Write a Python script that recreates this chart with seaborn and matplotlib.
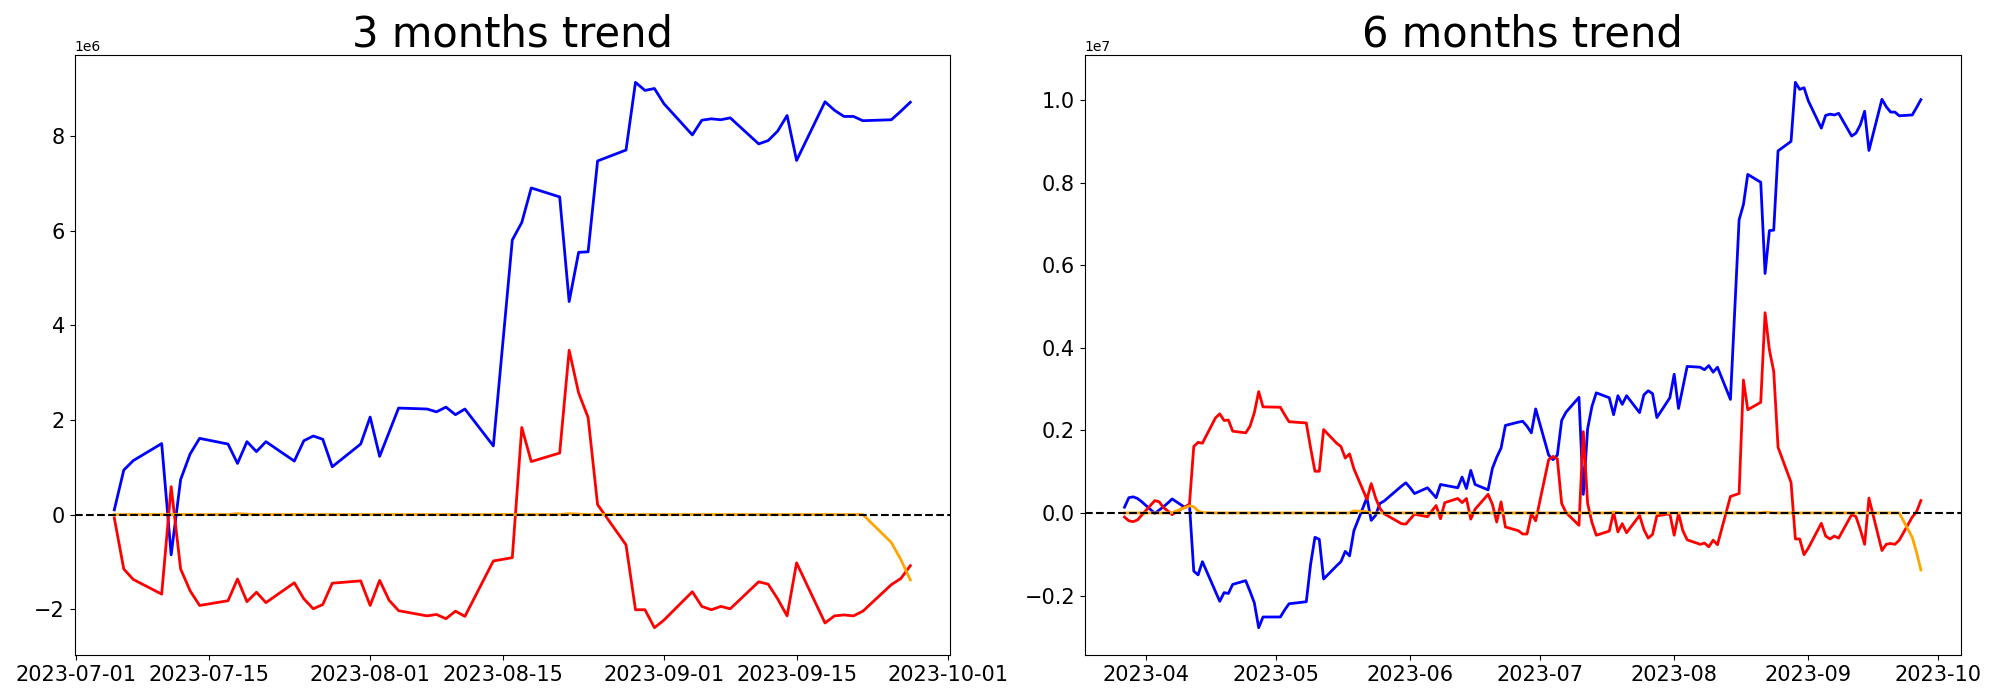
import numpy as np
import pandas as pd
import matplotlib
matplotlib.use("Agg")
import matplotlib.pyplot as plt
import seaborn as sns

# ---------------- data (values in millions) ----------------
dates_3m = [
    "07-05", "07-06", "07-07", "07-10", "07-11", "07-12", "07-13", "07-14", "07-17", "07-18",
    "07-19", "07-20", "07-21", "07-24", "07-25", "07-26", "07-27", "07-28", "07-31",
    "08-01", "08-02", "08-03", "08-04", "08-07", "08-08", "08-09", "08-10", "08-11", "08-14",
    "08-16", "08-17", "08-18", "08-21", "08-22", "08-23", "08-24", "08-25", "08-28", "08-29",
    "08-30", "08-31",
    "09-01", "09-04", "09-05", "09-06", "09-07", "09-08", "09-11", "09-12", "09-13", "09-14",
    "09-15", "09-18", "09-19", "09-20", "09-21", "09-22", "09-25", "09-26", "09-27",
]
blue_3m = [
    0.10, 0.94, 1.14, 1.50, -0.85, 0.74, 1.28, 1.61, 1.49, 1.08,
    1.54, 1.33, 1.54, 1.13, 1.56, 1.66, 1.59, 1.01, 1.49,
    2.06, 1.23, 1.74, 2.25, 2.23, 2.17, 2.27, 2.11, 2.23, 1.45,
    5.80, 6.17, 6.90, 6.71, 4.50, 5.54, 5.55, 7.47, 7.70, 9.13,
    8.96, 9.00,
    8.68, 8.02, 8.33, 8.36, 8.34, 8.38, 7.83, 7.90, 8.10, 8.43,
    7.48, 8.72, 8.54, 8.41, 8.41, 8.32, 8.34, 8.52, 8.71,
]
red_3m = [
    -0.07, -1.15, -1.37, -1.68, 0.59, -1.15, -1.61, -1.92, -1.82, -1.36,
    -1.84, -1.64, -1.86, -1.44, -1.78, -1.99, -1.90, -1.45, -1.40,
    -1.92, -1.39, -1.81, -2.03, -2.14, -2.11, -2.20, -2.04, -2.15, -0.98,
    -0.91, 1.84, 1.12, 1.30, 3.47, 2.57, 2.05, 0.21, -0.64, -2.01,
    -2.01, -2.39,
    -2.23, -1.63, -1.94, -2.01, -1.94, -1.99, -1.42, -1.47, -1.78, -2.14,
    -1.02, -2.29, -2.14, -2.12, -2.14, -2.04, -1.48, -1.35, -1.08,
]
orange_3m = [
    0.0, 0.0, 0.0, 0.0, 0.0, 0.0, 0.0, 0.0, 0.0, 0.02,
    0.01, 0.0, 0.0, 0.0, 0.0, 0.0, 0.0, 0.0, 0.0,
    0.0, 0.0, 0.0, 0.0, 0.0, 0.0, 0.0, 0.0, 0.0, 0.0,
    0.0, 0.0, 0.0, 0.0, 0.02, 0.01, 0.0, 0.0, 0.0, 0.0,
    0.0, 0.0,
    0.0, 0.0, 0.0, 0.0, 0.0, 0.0, 0.0, 0.0, 0.0, 0.0,
    0.0, 0.0, 0.0, 0.0, 0.0, 0.0, -0.59, -0.95, -1.38,
]

dates_6m = [
    "03-27", "03-28", "03-29", "03-30", "03-31",
    "04-03", "04-04", "04-05", "04-06", "04-07", "04-10", "04-11", "04-12", "04-13", "04-14",
    "04-17", "04-18", "04-19", "04-20", "04-21", "04-24", "04-25", "04-26", "04-27", "04-28",
    "05-02", "05-03", "05-04", "05-08", "05-09", "05-10", "05-11", "05-12", "05-15", "05-16",
    "05-17", "05-18", "05-19", "05-22", "05-23", "05-24", "05-25", "05-26", "05-30", "05-31",
    "06-01", "06-02", "06-05", "06-07", "06-08", "06-09", "06-12", "06-13", "06-14", "06-15",
    "06-16", "06-19", "06-20", "06-21", "06-22", "06-23", "06-26", "06-27", "06-28", "06-29",
    "06-30", "07-03", "07-04",
] + dates_3m
blue_6m = [
    0.14, 0.37, 0.39, 0.35, 0.27,
    -0.01, 0.07, 0.15, 0.24, 0.34, 0.13, 0.21, -1.41, -1.50, -1.18,
    -1.90, -2.14, -1.93, -1.95, -1.73, -1.64, -1.90, -2.18, -2.78, -2.52,
    -2.52, -2.35, -2.20, -2.15, -1.24, -0.59, -0.64, -1.60, -1.28, -1.18,
    -0.93, -1.04, -0.43, 0.37, -0.18, -0.06, 0.23, 0.29, 0.65, 0.73,
    0.61, 0.47, 0.61, 0.37, 0.69, 0.67, 0.61, 0.87, 0.59, 1.03,
    0.69, 0.56, 1.08, 1.35, 1.57, 2.12, 2.20, 2.22, 2.10, 1.94,
    2.52, 1.40, 1.29,
    1.40, 2.24, 2.44, 2.80, 0.45, 2.04, 2.58, 2.91, 2.79, 2.38,
    2.84, 2.63, 2.84, 2.43, 2.86, 2.96, 2.89, 2.31, 2.79,
    3.36, 2.53, 3.04, 3.55, 3.53, 3.47, 3.57, 3.41, 3.53, 2.75,
    7.10, 7.47, 8.20, 8.01, 5.80, 6.84, 6.85, 8.77, 9.00, 10.43,
    10.26, 10.30,
    9.98, 9.32, 9.63, 9.66, 9.64, 9.68, 9.13, 9.20, 9.40, 9.73,
    8.78, 10.02, 9.84, 9.71, 9.71, 9.62, 9.64, 9.82, 10.01,
]
red_6m = [
    -0.10, -0.19, -0.21, -0.17, -0.05,
    0.30, 0.27, 0.13, 0.05, -0.04, 0.15, 0.21, 1.61, 1.71, 1.69,
    2.30, 2.40, 2.24, 2.25, 1.98, 1.94, 2.10, 2.43, 2.94, 2.57,
    2.56, 2.38, 2.21, 2.18, 1.57, 1.01, 1.01, 2.02, 1.69, 1.61,
    1.33, 1.43, 1.07, 0.33, 0.71, 0.37, 0.11, -0.02, -0.26, -0.27,
    -0.15, -0.03, -0.09, 0.18, -0.14, 0.25, 0.35, 0.25, 0.35, -0.15,
    0.09, 0.45, 0.21, -0.22, 0.27, -0.34, -0.43, -0.51, -0.51, -0.02,
    -0.19, 1.29, 1.37,
    1.31, 0.23, 0.01, -0.30, 1.97, 0.23, -0.23, -0.54, -0.44, 0.02,
    -0.46, -0.26, -0.48, -0.06, -0.40, -0.61, -0.52, -0.07, -0.02,
    -0.54, -0.01, -0.43, -0.65, -0.76, -0.73, -0.82, -0.66, -0.77, 0.40,
    0.47, 3.22, 2.50, 2.68, 4.85, 3.95, 3.43, 1.59, 0.74, -0.63,
    -0.63, -1.01,
    -0.85, -0.25, -0.56, -0.63, -0.56, -0.61, -0.04, -0.09, -0.40, -0.76,
    0.36, -0.91, -0.76, -0.74, -0.76, -0.66, -0.10, 0.03, 0.30,
]
orange_6m = [
    0.0, 0.0, 0.0, 0.0, 0.0,
    0.0, 0.0, 0.0, 0.0, 0.01, 0.13, 0.17, 0.15, 0.05, 0.01,
    0.0, 0.0, 0.0, 0.0, 0.0, 0.0, 0.0, 0.0, 0.0, 0.0,
    0.0, 0.0, 0.0, 0.0, 0.0, 0.0, 0.0, 0.0, 0.0, 0.0,
    0.0, 0.0, 0.05, 0.03, 0.0, 0.0, 0.0, 0.0, 0.0, 0.0,
    0.0, 0.0, 0.0, 0.0, 0.0, 0.0, 0.0, 0.0, 0.0, 0.0,
    0.0, 0.0, 0.0, 0.0, 0.0, 0.0, 0.0, 0.0, 0.0, 0.0,
    0.0, 0.0, 0.0,
    0.0, 0.0, 0.0, 0.0, 0.0, 0.0, 0.0, 0.0, 0.0, 0.02,
    0.01, 0.0, 0.0, 0.0, 0.0, 0.0, 0.0, 0.0, 0.0,
    0.0, 0.0, 0.0, 0.0, 0.0, 0.0, 0.0, 0.0, 0.0, 0.0,
    0.0, 0.0, 0.0, 0.0, 0.02, 0.01, 0.0, 0.0, 0.0, 0.0,
    0.0, 0.0,
    0.0, 0.0, 0.0, 0.0, 0.0, 0.0, 0.0, 0.0, 0.0, 0.0,
    0.0, 0.0, 0.0, 0.0, 0.0, 0.0, -0.59, -0.95, -1.38,
]

titles = ["3 months trend", "6 months trend"]
series_colors = {"blue": "blue", "red": "red", "orange": "orange"}


def make_df(dates, blue, red, orange):
    return pd.DataFrame({
        "date": pd.to_datetime(["2023-" + d for d in dates]),
        "blue": np.array(blue) * 1e6,
        "red": np.array(red) * 1e6,
        "orange": np.array(orange) * 1e6,
    })


frames = [make_df(dates_3m, blue_3m, red_3m, orange_3m),
          make_df(dates_6m, blue_6m, red_6m, orange_6m)]

fig = plt.figure(figsize=(20, 7), dpi=100)
axes = [fig.add_axes([0.03725, 0.0643, 0.4378, 0.857]),
        fig.add_axes([0.54235, 0.0643, 0.4380, 0.857])]

for ax, df, title in zip(axes, frames, titles):
    for col, c in series_colors.items():
        sns.lineplot(data=df, x="date", y=col, ax=ax, color=c, linewidth=2)
    ax.axhline(0, color="black", linestyle="--", linewidth=1.5)
    ax.set_title(title, fontsize=30)
    ax.set_xlabel("")
    ax.set_ylabel("")
    ax.tick_params(axis="both", labelsize=15)

fig.savefig("out.png", dpi=100)
